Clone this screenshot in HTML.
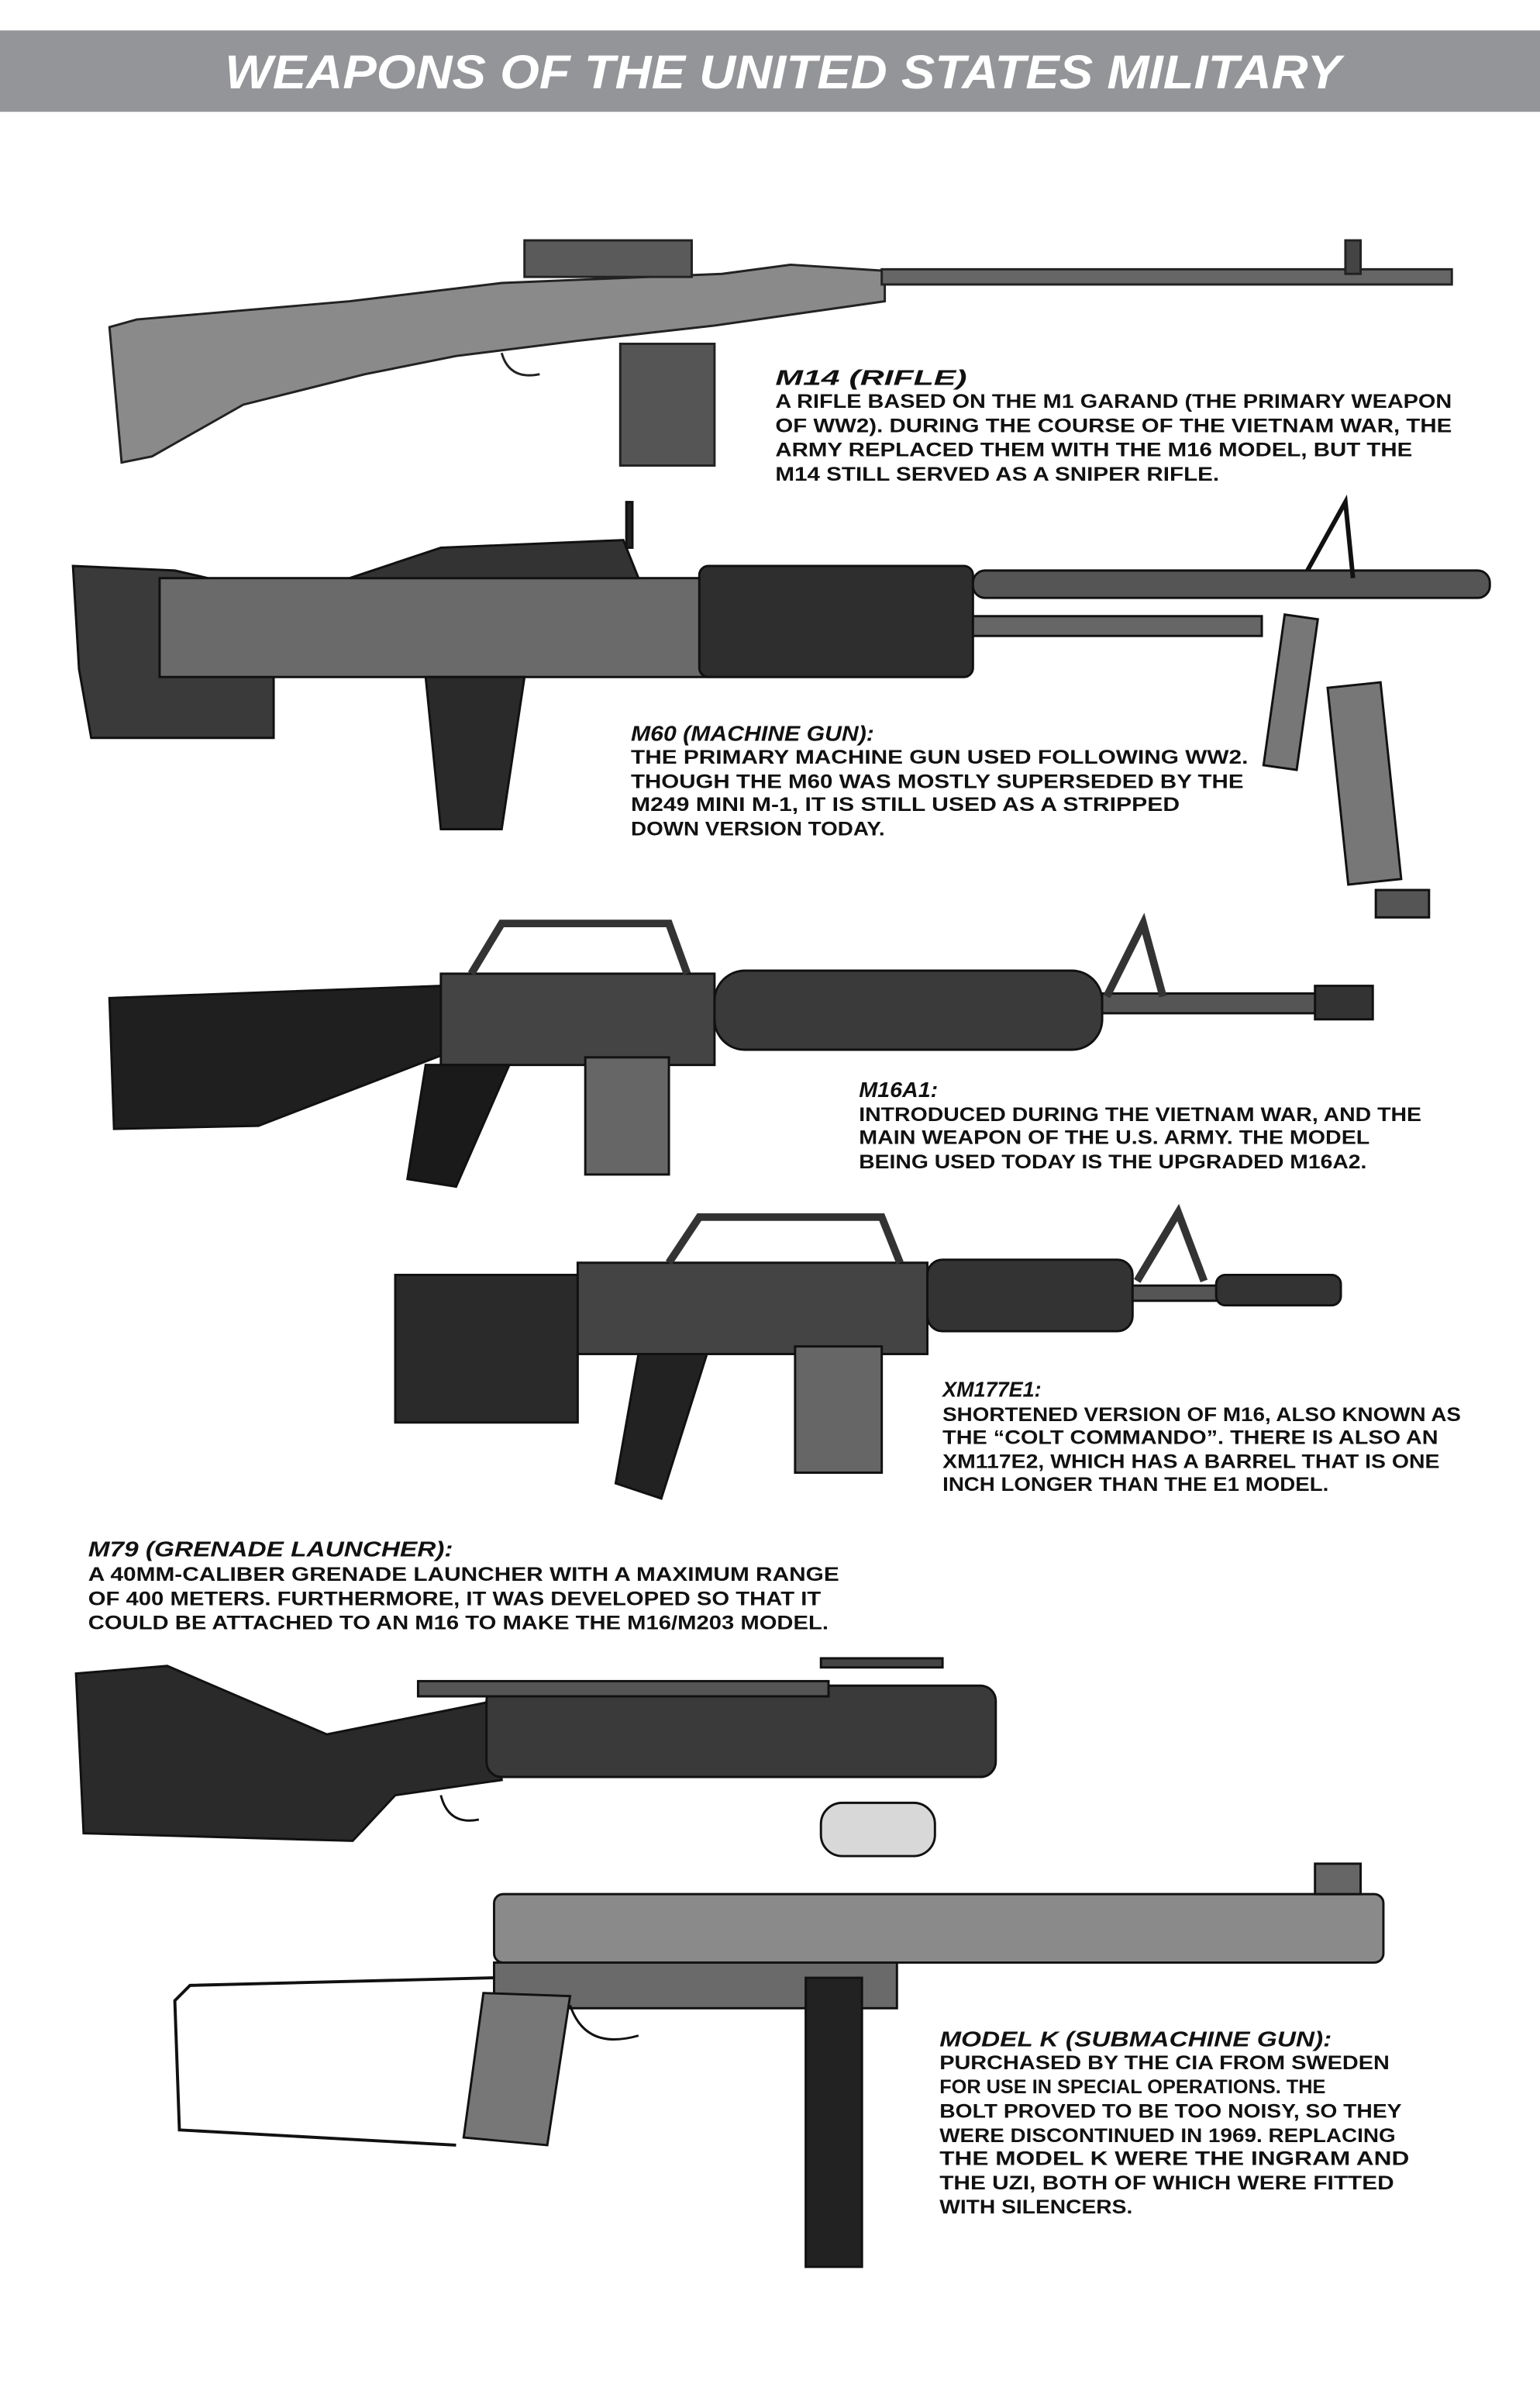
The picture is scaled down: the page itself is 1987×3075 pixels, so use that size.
<!DOCTYPE html>
<html><head><meta charset="utf-8"><style>
html,body{margin:0;padding:0;background:#fff;}
svg{display:block;}
text{font-family:"Liberation Sans",sans-serif;font-weight:bold;fill:#111;}
.t{font-style:italic;font-size:14px;}
.b{font-size:12.5px;}
</style></head><body>
<svg width="1987" height="3075" viewBox="0 0 1013 1567" preserveAspectRatio="none" xmlns="http://www.w3.org/2000/svg">
<rect x="0" y="0" width="1013" height="1567" fill="#fff"/>
<rect x="0" y="20" width="1013" height="53.5" fill="#949598"/>
<text x="148" y="58" textLength="734" lengthAdjust="spacingAndGlyphs" style="font-size:31px;font-style:italic;fill:#fff">WEAPONS OF THE UNITED STATES MILITARY</text>

<!-- M14 -->
<g stroke="#222" stroke-width="1.5">
<polygon points="72,215 90,210 230,198 330,186 475,180 520,174 582,178 582,198 470,214 380,224 300,234 240,246 160,266 100,300 80,304" fill="#8a8a8a"/>
<rect x="580" y="177" width="375" height="10" fill="#666"/>
<rect x="408" y="226" width="62" height="80" fill="#555"/>
<rect x="345" y="158" width="110" height="24" fill="#5a5a5a"/>
<rect x="885" y="158" width="10" height="22" fill="#444"/>
<path d="M330 232 q5 18 25 14" fill="none"/>
</g>

<!-- M60 -->
<g stroke="#111" stroke-width="1.5">
<polygon points="48,372 115,375 180,390 180,485 60,485 52,440" fill="#3a3a3a"/>
<rect x="105" y="380" width="360" height="65" fill="#6a6a6a"/>
<polygon points="230,380 290,360 410,355 420,380" fill="#333"/>
<rect x="460" y="372" width="180" height="73" rx="6" fill="#2e2e2e"/>
<rect x="640" y="375" width="340" height="18" rx="8" fill="#555"/>
<rect x="640" y="405" width="190" height="13" fill="#666"/>
<polygon points="280,445 345,445 330,545 290,545" fill="#2a2a2a"/>
<rect x="412" y="330" width="4" height="30" fill="#222"/>
<polyline points="860,375 885,330 890,380" fill="none" stroke-width="3"/>
<rect x="838" y="405" width="22" height="100" fill="#777" transform="rotate(8 849 455)"/>
<rect x="880" y="450" width="35" height="130" fill="#777" transform="rotate(-6 897 515)"/>
<rect x="905" y="585" width="35" height="18" fill="#555"/>
</g>

<!-- M16A1 -->
<g stroke="#111" stroke-width="1.5">
<polygon points="72,656 290,648 300,690 170,740 75,742" fill="#1f1f1f"/>
<rect x="290" y="640" width="180" height="60" fill="#444"/>
<polyline points="310,640 330,607 440,607 452,640" fill="none" stroke-width="5" stroke="#333"/>
<rect x="470" y="638" width="255" height="52" rx="20" fill="#3a3a3a"/>
<rect x="725" y="653" width="145" height="13" fill="#555"/>
<rect x="865" y="648" width="38" height="22" fill="#333"/>
<polyline points="728,655 752,607 765,655" fill="none" stroke-width="5" stroke="#333"/>
<polygon points="280,700 335,700 300,780 268,775" fill="#1a1a1a"/>
<rect x="385" y="695" width="55" height="77" fill="#666"/>
</g>

<!-- XM177E1 -->
<g stroke="#111" stroke-width="1.5">
<rect x="260" y="838" width="120" height="97" fill="#2a2a2a"/>
<rect x="380" y="830" width="230" height="60" fill="#444"/>
<polyline points="440,830 460,800 580,800 592,830" fill="none" stroke-width="5" stroke="#333"/>
<rect x="610" y="828" width="135" height="47" rx="10" fill="#333"/>
<polyline points="748,842 775,797 792,842" fill="none" stroke-width="5" stroke="#333"/>
<rect x="745" y="845" width="60" height="10" fill="#555"/>
<rect x="800" y="838" width="82" height="20" rx="6" fill="#333"/>
<polygon points="420,890 465,890 435,985 405,975" fill="#222"/>
<rect x="523" y="885" width="57" height="83" fill="#666"/>
</g>

<!-- M79 -->
<g stroke="#111" stroke-width="1.5">
<polygon points="50,1100 110,1095 215,1140 325,1118 330,1170 260,1180 232,1210 55,1205" fill="#2a2a2a"/>
<rect x="320" y="1108" width="335" height="60" rx="10" fill="#3a3a3a"/>
<rect x="275" y="1105" width="270" height="10" fill="#555"/>
<rect x="540" y="1090" width="80" height="6" fill="#444"/>
<path d="M290 1180 q5 20 25 16" fill="none"/>
<rect x="540" y="1185" width="75" height="35" rx="14" fill="#d8d8d8"/>
</g>

<!-- Model K -->
<g stroke="#111" stroke-width="1.5">
<rect x="325" y="1245" width="585" height="45" rx="6" fill="#8a8a8a"/>
<rect x="865" y="1225" width="30" height="20" fill="#666"/>
<rect x="325" y="1290" width="265" height="30" fill="#6a6a6a"/>
<rect x="530" y="1300" width="37" height="190" fill="#222"/>
<polygon points="318,1310 375,1312 360,1410 305,1405" fill="#777"/>
<polyline points="325,1300 125,1305 115,1315 118,1400 300,1410" fill="none" stroke-width="2"/>
<path d="M375 1318 q10 30 45 20" fill="none"/>
</g>

<!-- Texts -->
<text class="t" x="510" y="253" textLength="126" lengthAdjust="spacingAndGlyphs">M14 (RIFLE)</text>
<text class="b" x="510" y="268" textLength="445" lengthAdjust="spacingAndGlyphs">A RIFLE BASED ON THE M1 GARAND (THE PRIMARY WEAPON</text>
<text class="b" x="510" y="284" textLength="445" lengthAdjust="spacingAndGlyphs">OF WW2). DURING THE COURSE OF THE VIETNAM WAR, THE</text>
<text class="b" x="510" y="300" textLength="419" lengthAdjust="spacingAndGlyphs">ARMY REPLACED THEM WITH THE M16 MODEL, BUT THE</text>
<text class="b" x="510" y="316" textLength="292" lengthAdjust="spacingAndGlyphs">M14 STILL SERVED AS A SNIPER RIFLE.</text>

<text class="t" x="415" y="487" textLength="160" lengthAdjust="spacingAndGlyphs">M60 (MACHINE GUN):</text>
<text class="b" x="415" y="502" textLength="406" lengthAdjust="spacingAndGlyphs">THE PRIMARY MACHINE GUN USED FOLLOWING WW2.</text>
<text class="b" x="415" y="518" textLength="403" lengthAdjust="spacingAndGlyphs">THOUGH THE M60 WAS MOSTLY SUPERSEDED BY THE</text>
<text class="b" x="415" y="533" textLength="361" lengthAdjust="spacingAndGlyphs">M249 MINI M-1, IT IS STILL USED AS A STRIPPED</text>
<text class="b" x="415" y="549" textLength="167" lengthAdjust="spacingAndGlyphs">DOWN VERSION TODAY.</text>

<text class="t" x="565" y="721" textLength="52" lengthAdjust="spacingAndGlyphs">M16A1:</text>
<text class="b" x="565" y="737" textLength="370" lengthAdjust="spacingAndGlyphs">INTRODUCED DURING THE VIETNAM WAR, AND THE</text>
<text class="b" x="565" y="752" textLength="336" lengthAdjust="spacingAndGlyphs">MAIN WEAPON OF THE U.S. ARMY. THE MODEL</text>
<text class="b" x="565" y="768" textLength="334" lengthAdjust="spacingAndGlyphs">BEING USED TODAY IS THE UPGRADED M16A2.</text>

<text class="t" x="620" y="918" textLength="65" lengthAdjust="spacingAndGlyphs">XM177E1:</text>
<text class="b" x="620" y="934" textLength="341" lengthAdjust="spacingAndGlyphs">SHORTENED VERSION OF M16, ALSO KNOWN AS</text>
<text class="b" x="620" y="949" textLength="326" lengthAdjust="spacingAndGlyphs">THE “COLT COMMANDO”.  THERE IS ALSO AN</text>
<text class="b" x="620" y="965" textLength="327" lengthAdjust="spacingAndGlyphs">XM117E2, WHICH HAS A BARREL THAT IS ONE</text>
<text class="b" x="620" y="980" textLength="254" lengthAdjust="spacingAndGlyphs">INCH LONGER THAN THE E1 MODEL.</text>

<text class="t" x="58" y="1023" textLength="240" lengthAdjust="spacingAndGlyphs">M79 (GRENADE LAUNCHER):</text>
<text class="b" x="58" y="1039" textLength="494" lengthAdjust="spacingAndGlyphs">A 40MM-CALIBER GRENADE LAUNCHER WITH A MAXIMUM RANGE</text>
<text class="b" x="58" y="1055" textLength="482" lengthAdjust="spacingAndGlyphs">OF 400 METERS. FURTHERMORE, IT WAS DEVELOPED SO THAT IT</text>
<text class="b" x="58" y="1071" textLength="487" lengthAdjust="spacingAndGlyphs">COULD BE ATTACHED TO AN M16 TO MAKE THE M16/M203 MODEL.</text>

<text class="t" x="618" y="1345" textLength="258" lengthAdjust="spacingAndGlyphs">MODEL K (SUBMACHINE GUN):</text>
<text class="b" x="618" y="1360" textLength="296" lengthAdjust="spacingAndGlyphs">PURCHASED BY THE CIA FROM SWEDEN</text>
<text class="b" x="618" y="1376" textLength="254" lengthAdjust="spacingAndGlyphs">FOR USE IN SPECIAL OPERATIONS. THE</text>
<text class="b" x="618" y="1392" textLength="304" lengthAdjust="spacingAndGlyphs">BOLT PROVED TO BE TOO NOISY, SO THEY</text>
<text class="b" x="618" y="1408" textLength="300" lengthAdjust="spacingAndGlyphs">WERE DISCONTINUED IN 1969. REPLACING</text>
<text class="b" x="618" y="1423" textLength="309" lengthAdjust="spacingAndGlyphs">THE MODEL K WERE THE INGRAM AND</text>
<text class="b" x="618" y="1439" textLength="299" lengthAdjust="spacingAndGlyphs">THE UZI, BOTH OF WHICH WERE FITTED</text>
<text class="b" x="618" y="1455" textLength="127" lengthAdjust="spacingAndGlyphs">WITH SILENCERS.</text>
</svg>
</body></html>
